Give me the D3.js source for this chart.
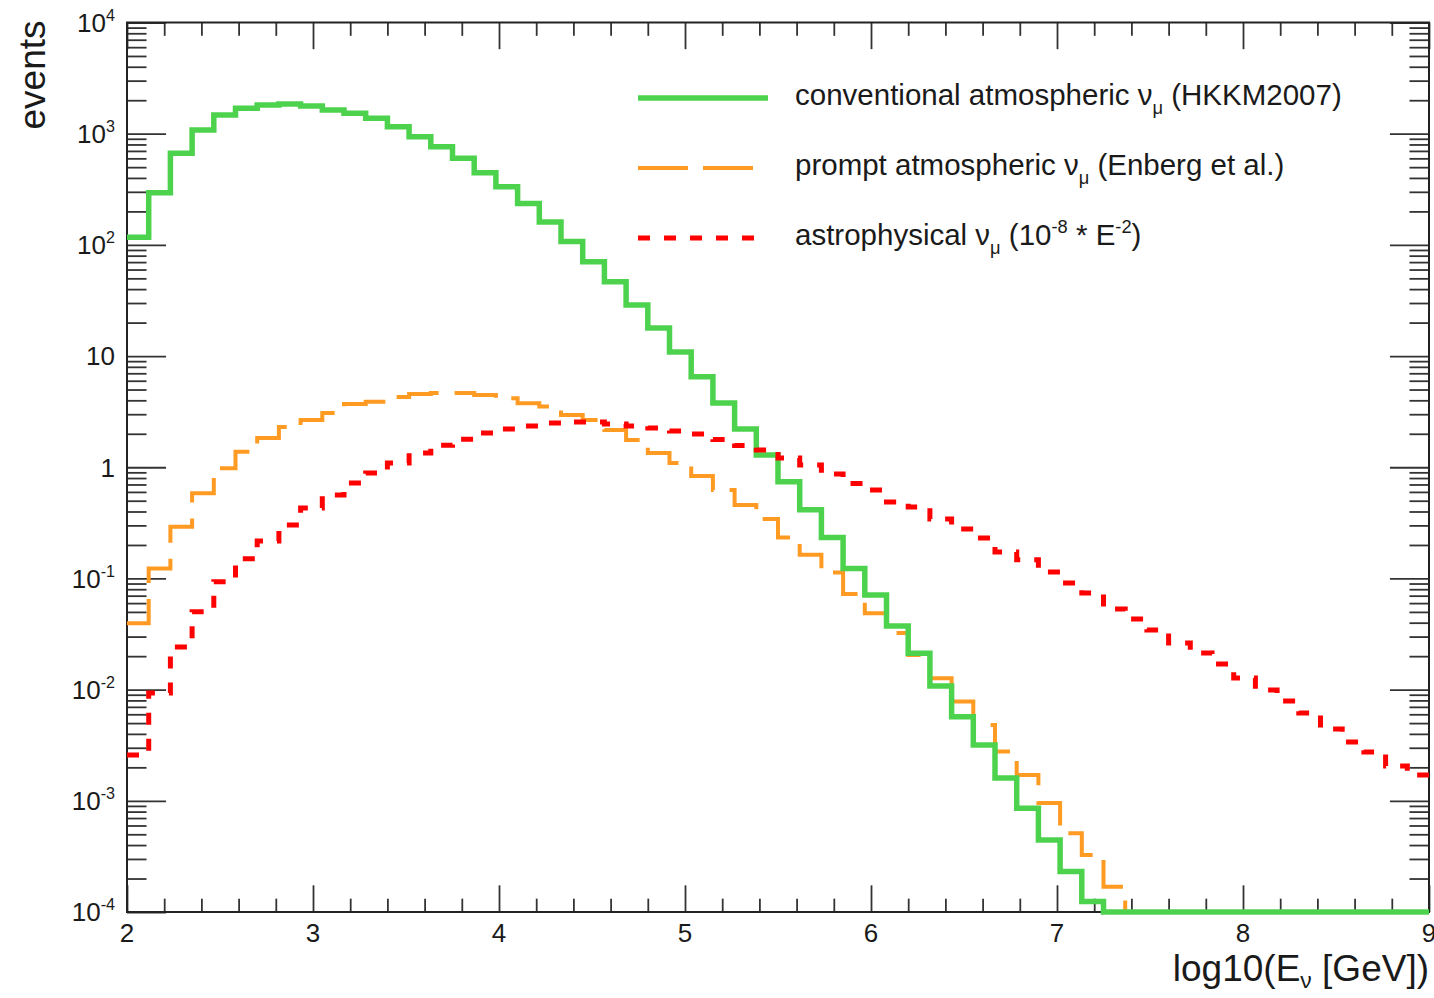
<!DOCTYPE html>
<html>
<head>
<meta charset="utf-8">
<script src="https://cdn.jsdelivr.net/npm/d3@7"></script>
<style>
  body { margin: 0; background: #fff; }
  text { font-family: 'Liberation Sans', Arial, Helvetica, sans-serif; fill: #1a1a1a; }
</style>
</head>
<body>
<div class="chart-container"></div>
<script>
// . . . data

// histogram binning in log10(E/GeV)
const binLow = 2, binHigh = 9, nBins = 60;

const xTickValues = [2, 3, 4, 5, 6, 7, 8, 9];
const yTickExponents = [4, 3, 2, 1, 0, -1, -2, -3, -4];

// events per bin (0 = empty bin)
const conventional = [
  117, 294, 667, 1080, 1470, 1690, 1810, 1850, 1775, 1633,
  1525, 1375, 1156, 940, 764, 601, 446, 334, 236, 161,
  107, 70.6, 46.7, 28.8, 17.9, 10.9, 6.52, 3.78, 2.21, 1.29,
  0.741, 0.415, 0.233, 0.123, 0.071, 0.0373, 0.0212, 0.0108, 0.00571, 0.00318,
  0.0016, 0.000857, 0.000445, 0.000231, 0.000124, 0, 0, 0, 0, 0,
  0, 0, 0, 0, 0, 0, 0, 0, 0, 0
];

const prompt = [
  0.0395, 0.123, 0.292, 0.583, 0.979, 1.38, 1.83, 2.30, 2.66, 3.08,
  3.71, 3.89, 4.29, 4.56, 4.66, 4.66, 4.47, 4.17, 3.76, 3.51,
  2.95, 2.66, 2.16, 1.76, 1.34, 1.09, 0.834, 0.625, 0.458, 0.343,
  0.233, 0.163, 0.113, 0.0724, 0.0486, 0.0323, 0.0205, 0.01265, 0.0078, 0.00481,
  0.00277, 0.00171, 0.000957, 0.000511, 0.000326, 0.000169, 0, 0, 0, 0,
  0, 0, 0, 0, 0, 0, 0, 0, 0, 0
];

const astro = [
  0.00258, 0.00933, 0.0242, 0.0502, 0.0935, 0.150, 0.217, 0.303, 0.431, 0.564,
  0.722, 0.887, 1.09, 1.34, 1.58, 1.79, 2.03, 2.21, 2.35, 2.50,
  2.55, 2.55, 2.45, 2.35, 2.25, 2.12, 1.99, 1.78, 1.57, 1.43,
  1.21, 1.05, 0.869, 0.714, 0.624, 0.488, 0.440, 0.343, 0.279, 0.231,
  0.173, 0.147, 0.114, 0.091, 0.074, 0.0531, 0.0432, 0.0344, 0.0263, 0.0214,
  0.017, 0.0127, 0.00993, 0.00791, 0.00617, 0.00443, 0.00338, 0.00275, 0.00206, 0.00171
];

// legend entries, parts: plain / sub / sup
const legendEntries = [
  { parts: [['conventional atmospheric ν'], ['μ', 'sub'], [' (HKKM2007)']] },
  { parts: [['prompt atmospheric ν'], ['μ', 'sub'], [' (Enberg et al.)']] },
  { parts: [['astrophysical ν'], ['μ', 'sub'], [' (10'], ['-8', 'sup'], [' * E'], ['-2', 'sup'], [')']] }
];

// . . . layout

const width = 1434, height = 998;
const frame = { left: 127, right: 1429, top: 22.5, bottom: 912 };
const plotW = frame.right - frame.left;
const plotH = frame.bottom - frame.top;

const svg = d3.select('.chart-container')
  .append('svg')
  .attr('width', width)
  .attr('height', height);

// scales
const x = d3.scaleLinear()
  .domain([binLow, binHigh])
  .range([frame.left, frame.right]);

const yMin = 1e-4, yMax = 1e4;
const y = d3.scaleLog()
  .domain([yMin, yMax])
  .range([frame.bottom, frame.top])
  .clamp(true);

// adds text with sub/superscript tspans
function richText(sel, parts, size, subShift = 0.32) {
  let shift = 0;
  parts.forEach(([t, kind]) => {
    const target = kind === 'sub' ? subShift * size : kind === 'sup' ? -0.42 * size : 0;
    sel.append('tspan')
      .attr('dy', target - shift)
      .style('font-size', (kind ? size * 0.62 : size) + 'px')
      .text(t);
    shift = target;
  });
}

// . . . ticks

const majorY = yTickExponents.map(e => Math.pow(10, e));
const minorY = [];
yTickExponents.slice(1).forEach(e => {
  for (let m = 2; m <= 9; m++) minorY.push(m * Math.pow(10, e));
});
const minorX = [];
xTickValues.slice(0, -1).forEach(v => {
  for (let k = 1; k <= 4; k++) minorX.push(v + k * 0.2);
});

const tickColor = '#333';
const yMajorLen = 0.03 * plotW, yMinorLen = yMajorLen / 2;
const xMajorLen = 0.03 * plotH, xMinorLen = xMajorLen / 2;

function tickGroup(axis, tx, ty) {
  const g = svg.append('g')
    .attr('transform', `translate(${tx}, ${ty})`)
    .call(axis.tickFormat(''));
  g.select('.domain').remove();
  g.selectAll('line').attr('stroke', tickColor).attr('stroke-width', 1.8);
  return g;
}

// left + right
tickGroup(d3.axisLeft(y).tickValues(majorY).tickSize(-yMajorLen), frame.left, 0);
tickGroup(d3.axisLeft(y).tickValues(minorY).tickSize(-yMinorLen), frame.left, 0);
tickGroup(d3.axisRight(y).tickValues(majorY).tickSize(-yMajorLen), frame.right, 0);
tickGroup(d3.axisRight(y).tickValues(minorY).tickSize(-yMinorLen), frame.right, 0);

// bottom + top
tickGroup(d3.axisBottom(x).tickValues(xTickValues).tickSize(-xMajorLen), 0, frame.bottom);
tickGroup(d3.axisBottom(x).tickValues(minorX).tickSize(-xMinorLen), 0, frame.bottom);
tickGroup(d3.axisTop(x).tickValues(xTickValues).tickSize(-xMajorLen), 0, frame.top);
tickGroup(d3.axisTop(x).tickValues(minorX).tickSize(-xMinorLen), 0, frame.top);

// frame
svg.append('rect')
  .attr('x', frame.left)
  .attr('y', frame.top)
  .attr('width', plotW)
  .attr('height', plotH)
  .attr('fill', 'none')
  .attr('stroke', '#222')
  .attr('stroke-width', 2);

// tick labels
const labelSize = 26;
svg.append('g').selectAll('text')
  .data(xTickValues)
  .enter().append('text')
  .attr('x', d => x(d))
  .attr('y', frame.bottom + 30)
  .style('text-anchor', 'middle')
  .style('font-size', labelSize + 'px')
  .text(d => d);

svg.append('g').selectAll('text')
  .data(yTickExponents)
  .enter().append('text')
  .attr('x', frame.left - 12)
  .attr('y', d => y(Math.pow(10, d)) + labelSize * 0.36)
  .style('text-anchor', 'end')
  .each(function(d) {
    const t = d3.select(this);
    if (d === 0) richText(t, [['1']], labelSize);
    else if (d === 1) richText(t, [['10']], labelSize);
    else richText(t, [['10'], [String(d), 'sup']], labelSize);
  });

// axis titles
const xTitle = svg.append('text')
  .attr('x', frame.right)
  .attr('y', 981)
  .style('text-anchor', 'end');
richText(xTitle, [['log10(E'], ['ν', 'sub'], [' [GeV])']], 37, 0.2);

svg.append('text')
  .attr('transform', 'rotate(-90)')
  .attr('x', -frame.top + 2)
  .attr('y', 45)
  .style('text-anchor', 'end')
  .style('font-size', '37px')
  .text('events');

// . . . histograms

const edges = d3.range(nBins + 1).map(i => binLow + i * (binHigh - binLow) / nBins);

function stepPoints(values) {
  const pts = [];
  values.forEach((v, i) => {
    const val = Math.max(v, yMin);
    pts.push([edges[i], val], [edges[i + 1], val]);
  });
  return pts;
}

const histLine = d3.line()
  .x(d => x(d[0]))
  .y(d => y(d[1]));

const series = [
  { values: prompt, color: '#ff9a22', width: 4, dash: '46,16' },
  { values: conventional, color: '#4dd24d', width: 5.5, dash: null },
  { values: astro, color: '#ff0000', width: 5, dash: '12,14' }
];

series.forEach(s => {
  svg.append('path')
    .datum(stepPoints(s.values))
    .attr('fill', 'none')
    .attr('stroke', s.color)
    .attr('stroke-width', s.width)
    .attr('stroke-dasharray', s.dash)
    .attr('d', histLine);
});

// . . . legend

const legendStyles = [series[1], series[0], series[2]];
const legendY = [98, 168, 238];
const legendSampleEnd = [768, 757, 757];

legendEntries.forEach((entry, i) => {
  const s = legendStyles[i];
  svg.append('line')
    .attr('x1', 638)
    .attr('x2', legendSampleEnd[i])
    .attr('y1', legendY[i])
    .attr('y2', legendY[i])
    .attr('stroke', s.color)
    .attr('stroke-width', s.width)
    .attr('stroke-dasharray', i === 1 ? '50,15' : s.dash);

  const t = svg.append('text')
    .attr('x', 795)
    .attr('y', legendY[i] + 7);
  richText(t, entry.parts, 29.5);
});
</script>
</body>
</html>
